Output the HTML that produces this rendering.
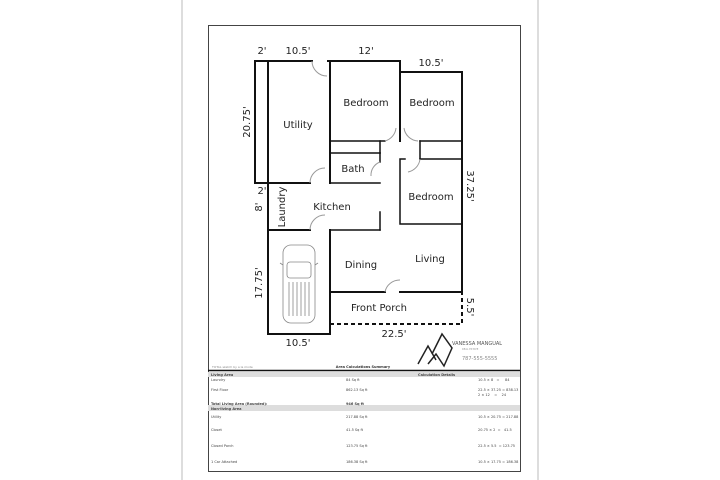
<!DOCTYPE html>
<html><head><meta charset="utf-8"><style>
html,body{margin:0;padding:0;background:#fff;width:720px;height:480px;overflow:hidden}
svg{display:block}
text{font-family:"DejaVu Sans","Liberation Sans",sans-serif}
</style></head><body>
<svg width="720" height="480" viewBox="0 0 720 480" xmlns="http://www.w3.org/2000/svg">
<rect x="0" y="0" width="720" height="480" fill="#fff"/>
<line x1="182" y1="0" x2="182" y2="480" stroke="#ddd" stroke-width="2"/>
<line x1="538" y1="0" x2="538" y2="480" stroke="#ddd" stroke-width="2"/>
<rect x="208.5" y="25.5" width="312" height="446" fill="none" stroke="#444" stroke-width="1"/>
<g stroke="#111" stroke-width="2" fill="none" stroke-linecap="square">
<!-- utility outer -->
<polyline points="255,183 255,61 312,61"/>
<line x1="268" y1="61" x2="268" y2="334"/>
<line x1="255" y1="183" x2="310" y2="183"/>
<line x1="330" y1="61" x2="330" y2="183"/>
<polyline points="328,61 400,61 400,72 462,72 462,292"/>
<line x1="400" y1="72" x2="400" y2="141"/>
<!-- bedroom1 bottom/closet -->
<line x1="330" y1="141" x2="385" y2="141" stroke-width="1.5"/>
<line x1="330" y1="153" x2="380" y2="153" stroke-width="1.5"/>
<line x1="380" y1="141" x2="380" y2="153" stroke-width="1.5"/>
<line x1="330" y1="183" x2="380" y2="183" stroke-width="1.5"/>
<line x1="380" y1="153" x2="380" y2="162" stroke-width="1.5"/>
<!-- bedroom2 closet -->
<line x1="420" y1="141" x2="462" y2="141" stroke-width="1.5"/>
<line x1="420" y1="159" x2="462" y2="159" stroke-width="1.5"/>
<line x1="420" y1="141" x2="420" y2="159" stroke-width="1.5"/>
<!-- bedroom3 -->
<polyline points="405,159 400,159 400,224 462,224" stroke-width="1.5"/>
<!-- kitchen -->
<line x1="268" y1="230" x2="310" y2="230"/>
<line x1="330" y1="230" x2="380" y2="230" stroke-width="1.5"/>
<line x1="380" y1="212" x2="380" y2="230" stroke-width="1.5"/>
<!-- garage -->
<polyline points="268,334 330,334 330,230"/>
<!-- living bottom -->
<line x1="330" y1="292" x2="385" y2="292"/>
<line x1="400" y1="292" x2="462" y2="292"/>
</g>
<g stroke="#111" stroke-width="2" fill="none" stroke-dasharray="4,3">
<polyline points="330,324 462,324 462,292"/>
</g>
<!-- doors -->
<g stroke="#999" stroke-width="1" fill="none">
<path d="M312,61 A15,15 0 0 0 327,76"/>
<path d="M310,183 A15,15 0 0 1 325,168"/>
<path d="M310,230 A15,15 0 0 1 325,215"/>
<path d="M385,141 A15,15 0 0 0 396,128"/>
<path d="M404,128 A15,15 0 0 0 418,141"/>
<path d="M380,162 A14,14 0 0 0 371,176"/>
<path d="M420,159 A15,15 0 0 1 408,172"/>
<path d="M385,292 A15,15 0 0 1 400,280"/>
</g>
<!-- car -->
<g stroke="#888" stroke-width="0.8" fill="none">
<rect x="283" y="245" width="32" height="78" rx="8"/>
<rect x="287" y="262" width="24" height="16" rx="3"/>
<path d="M289,282 L289,316 M293,282 L293,316 M297,282 L297,316 M301,282 L301,316 M305,282 L305,316 M309,282 L309,316"/>
<path d="M283,265 l-3,-2 M315,265 l3,-2"/>
</g>
<g font-size="10" fill="#222" text-anchor="middle">
<text x="262" y="54">2'</text>
<text x="298" y="54">10.5'</text>
<text x="366" y="54">12'</text>
<text x="431" y="66">10.5'</text>
<text x="298" y="128">Utility</text>
<text x="366" y="106">Bedroom</text>
<text x="432" y="106">Bedroom</text>
<text x="353" y="172">Bath</text>
<text x="431" y="200">Bedroom</text>
<text x="262" y="194">2'</text>
<text x="332" y="210">Kitchen</text>
<text x="361" y="268">Dining</text>
<text x="430" y="262">Living</text>
<text x="379" y="311">Front Porch</text>
<text x="394" y="337">22.5'</text>
<text x="298" y="346">10.5'</text>
<text transform="translate(250,122) rotate(-90)">20.75'</text>
<text transform="translate(262,207) rotate(-90)">8'</text>
<text transform="translate(285,207) rotate(-90)">Laundry</text>
<text transform="translate(262,283) rotate(-90)">17.75'</text>
<text transform="translate(467,186) rotate(90)">37.25'</text>
<text transform="translate(467,307) rotate(90)">5.5'</text>
</g>
<!-- logo -->
<g stroke="#222" stroke-width="1.5" fill="none">
<polyline points="418,364 428,346 436,360"/>
<polyline points="428,364 436,354 444,366 452,348 442,334 432,354"/>
</g>
<text x="452" y="345" font-size="5" fill="#555" font-family="Liberation Serif,serif">VANESSA MANGUAL</text>
<text x="462" y="350" font-size="2.5" fill="#999">REAL ESTATE</text>
<text x="462" y="360" font-size="5" fill="#888">787-555-5555</text>
<!-- table -->
<text x="212" y="368" font-size="3" fill="#888">TOTAL sketch by a la mode</text>
<text x="363" y="368" font-size="3.5" font-weight="bold" fill="#333" text-anchor="middle">Area Calculations Summary</text>
<line x1="208" y1="370.5" x2="520" y2="370.5" stroke="#111" stroke-width="1.5"/>
<rect x="208" y="372" width="312" height="5" fill="#ddd"/>
<rect x="208" y="405" width="312" height="6" fill="#ddd"/>
<g font-size="3.5" fill="#444">
<text x="211" y="376" font-weight="bold">Living Area</text>
<text x="418" y="376" font-weight="bold">Calculation Details</text>
<text x="211" y="381">Laundry</text><text x="346" y="381">84 Sq ft</text><text x="478" y="381">10.5 × 8 &#160;&#160;= &#160;&#160;&#160;&#160;84</text>
<text x="211" y="391">First Floor</text><text x="346" y="391">862.13 Sq ft</text><text x="478" y="391">22.5 × 37.25 = 838.13</text>
<text x="478" y="396">2 × 12 &#160;&#160;&#160;= &#160;&#160;&#160;24</text>
<text x="211" y="405" font-weight="bold">Total Living Area (Rounded):</text><text x="346" y="405" font-weight="bold">946 Sq ft</text>
<text x="211" y="410" font-weight="bold">Non-living Area</text>
<text x="211" y="418">Utility</text><text x="346" y="418">217.88 Sq ft</text><text x="478" y="418">10.5 × 20.75 = 217.88</text>
<text x="211" y="431">Closet</text><text x="346" y="431">41.5 Sq ft</text><text x="478" y="431">20.75 × 2 &#160;= &#160;&#160;41.5</text>
<text x="211" y="447">Closed Porch</text><text x="346" y="447">123.75 Sq ft</text><text x="478" y="447">22.5 × 5.5 &#160;= 123.75</text>
<text x="211" y="463">1 Car Attached</text><text x="346" y="463">186.38 Sq ft</text><text x="478" y="463">10.5 × 17.75 = 186.38</text>
</g>
</svg>
</body></html>
